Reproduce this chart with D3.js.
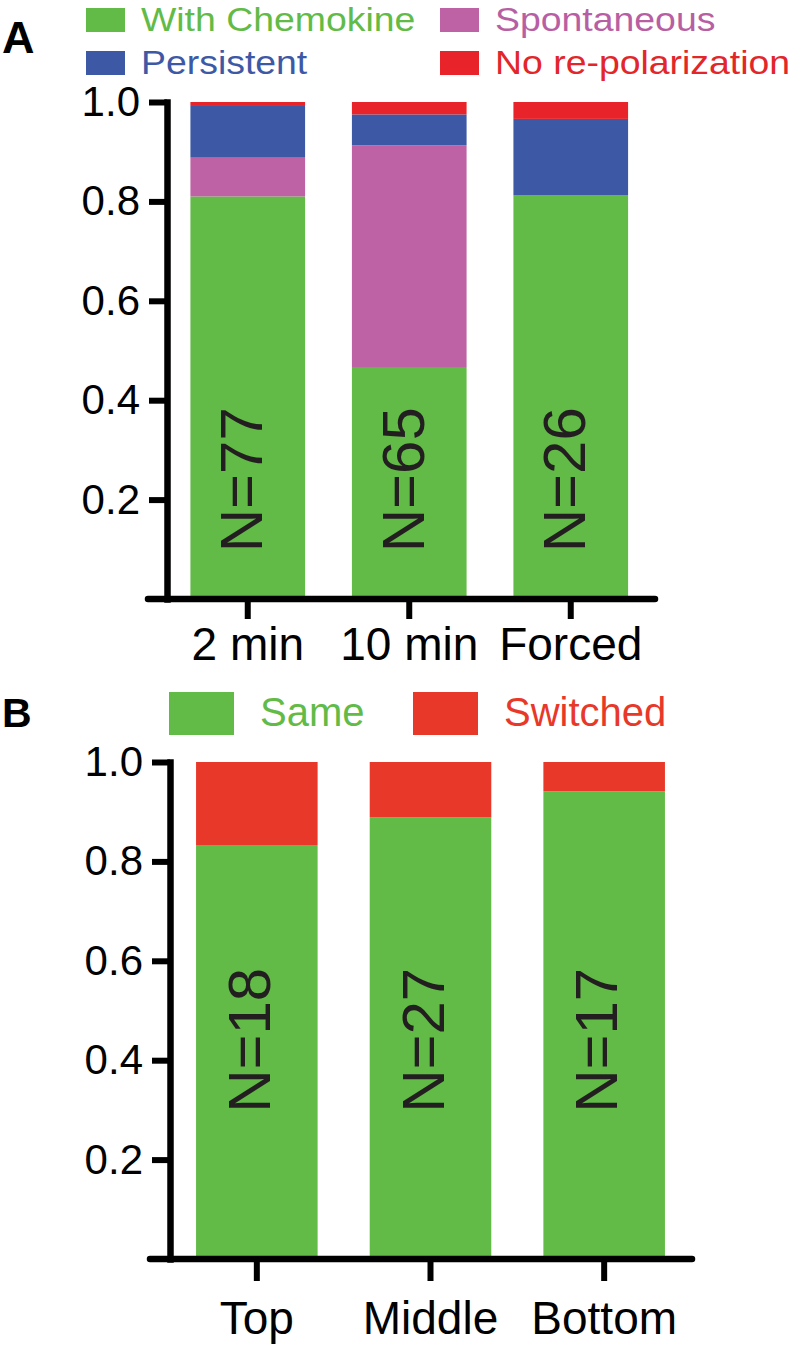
<!DOCTYPE html>
<html>
<head>
<meta charset="utf-8">
<script src="https://cdn.jsdelivr.net/npm/d3@7"></script>
<style>
  body { margin: 0; background: #fff; }
  svg { display: block; font-family: "Liberation Sans", Arial, Helvetica, sans-serif; }
</style>
</head>
<body>
<div id="chart"></div>
<script>
// ── Data (fractions) ─────────────────────────────────────────────────────
const groupsA = ["2 min", "10 min", "Forced"];
const keysA = ["With Chemokine", "Spontaneous", "Persistent", "No re-polarization"];
const withChemokine    = [0.810, 0.465, 0.812];
const spontaneous      = [0.078, 0.448, 0.000];
const persistent       = [0.104, 0.062, 0.154];
const noRepolarization = [0.008, 0.025, 0.034];
const countsA = ["N=77", "N=65", "N=26"];

const groupsB = ["Top", "Middle", "Bottom"];
const keysB = ["Same", "Switched"];
const same     = [0.833, 0.889, 0.941];
const switched = [0.167, 0.111, 0.059];
const countsB = ["N=18", "N=27", "N=17"];

const yTicks = [0.2, 0.4, 0.6, 0.8, 1.0];

const GREEN = "#62bb47", PINK = "#be62a5", BLUE = "#3d59a6", RED_A = "#e8242a", RED_B = "#e8382a";

const svg = d3.select("#chart").append("svg").attr("width", 792).attr("height", 1348);
svg.append("rect").attr("width", 792).attr("height", 1348).attr("fill", "#fff");

// ── One stacked-bar panel ────────────────────────────────────────────────
function drawPanel(o) {
    const rows = o.groups.map((g, i) => {
        const r = { group: g };
        o.keys.forEach((k, j) => r[k] = o.series[j][i]);
        return r;
    });
    const layers = d3.stack().keys(o.keys)(rows);

    const x = d3.scaleBand().domain(o.groups).range(o.xRange)
        .paddingInner(o.padIn).paddingOuter(o.padOut);
    const y = d3.scaleLinear().domain([0, 1]).range(o.yRange);

    const g = svg.append("g");

    g.selectAll("g.layer").data(layers).join("g")
        .attr("class", "layer")
        .attr("fill", (d, i) => o.colors[i])
        .selectAll("rect").data(d => d).join("rect")
        .attr("x", d => x(d.data.group))
        .attr("width", x.bandwidth())
        .attr("y", d => y(d[1]))
        .attr("height", d => y(d[0]) - y(d[1]));

    // rotated N= labels inside the bars
    g.selectAll("text.n").data(o.counts).join("text")
        .attr("class", "n")
        .attr("transform", (d, i) =>
            `translate(${x(o.groups[i]) + x.bandwidth() / 2 + o.nDx},${y(o.nAt)}) rotate(-90)`)
        .attr("text-anchor", "middle")
        .attr("font-size", o.nSize)
        .attr("fill", "#231f20")
        .text(d => d);

    // y axis
    const ya = g.append("g")
        .attr("transform", `translate(${o.xRange[0]},0)`)
        .call(d3.axisLeft(y).tickValues(yTicks).tickFormat(d3.format(".1f"))
            .tickSize(18).tickSizeOuter(0).tickPadding(9));
    ya.select(".domain").attr("stroke-width", 6.5).attr("stroke-linecap", "square");
    ya.selectAll(".tick line").attr("stroke-width", 6);
    ya.selectAll(".tick text").attr("font-size", o.yFont).attr("font-family", null).attr("fill", "#000");

    // x axis
    const xa = g.append("g")
        .attr("transform", `translate(0,${o.yRange[0]})`)
        .call(d3.axisBottom(x).tickSize(o.xTick).tickSizeOuter(0).tickPadding(o.xPad));
    xa.select(".domain")
        .attr("d", `M${o.xAxisExt[0]},0H${o.xAxisExt[1]}`)
        .attr("stroke-width", 6.5).attr("stroke-linecap", "round");
    xa.selectAll(".tick line").attr("stroke-width", 6);
    xa.selectAll(".tick text").attr("font-size", o.xFont).attr("font-family", null).attr("fill", "#000");
    xa.attr("font-family", null);
    ya.attr("font-family", null);
}

// ── Legend ───────────────────────────────────────────────────────────────
function drawLegend(o) {
    const lg = svg.append("g");
    const item = lg.selectAll("g").data(o.keys).join("g")
        .attr("transform", (d, i) => `translate(${o.cols[i % o.cols.length]},${o.rows[Math.floor(i / o.cols.length)]})`);
    item.append("rect")
        .attr("width", o.box[0]).attr("height", o.box[1])
        .attr("fill", (d, i) => o.colors[i]);
    item.append("text")
        .attr("transform", `translate(${o.textDx},${o.baseline}) scale(${o.stretch},1)`)
        .attr("font-size", o.font)
        .attr("fill", (d, i) => o.textColors[i])
        .text(d => d);
}

// ── Panel A ──────────────────────────────────────────────────────────────
svg.append("text").attr("x", 2).attr("y", 53).attr("font-size", 45)
    .attr("font-weight", "bold").text("A");

drawLegend({
    keys: ["With Chemokine", "Spontaneous", "Persistent", "No re-polarization"],
    colors: [GREEN, PINK, BLUE, RED_A],
    textColors: [GREEN, "#b85fa4", "#3d59a6", "#e2262a"],
    cols: [86, 440], rows: [8, 51], box: [39, 24],
    textDx: 55, baseline: 23, font: 34, stretch: 1.1
});

drawPanel({
    groups: groupsA, keys: keysA,
    series: [withChemokine, spontaneous, persistent, noRepolarization],
    colors: [GREEN, PINK, BLUE, RED_A],
    counts: countsA, nAt: 0.24, nDx: 14.5, nSize: 60,
    xRange: [167, 651.5], padIn: 0.29, padOut: 0.145,
    yRange: [599, 102],
    xAxisExt: [148, 655], xTick: 20, xPad: 8,
    yFont: 42, xFont: 46
});

// ── Panel B ──────────────────────────────────────────────────────────────
svg.append("text").attr("x", 2).attr("y", 727).attr("font-size", 41)
    .attr("font-weight", "bold").text("B");

drawLegend({
    keys: keysB,
    colors: [GREEN, RED_B],
    textColors: [GREEN, RED_B],
    cols: [169, 413], rows: [692], box: [65, 43],
    textDx: 91, baseline: 34, font: 40, stretch: 1
});

drawPanel({
    groups: groupsB, keys: keysB,
    series: [same, switched],
    colors: [GREEN, RED_B],
    counts: countsB, nAt: 0.44, nDx: 13, nSize: 60,
    xRange: [170, 691], padIn: 0.3, padOut: 0.15,
    yRange: [1259, 762],
    xAxisExt: [150, 692], xTick: 22, xPad: 20,
    yFont: 42, xFont: 46
});
</script>
</body>
</html>
